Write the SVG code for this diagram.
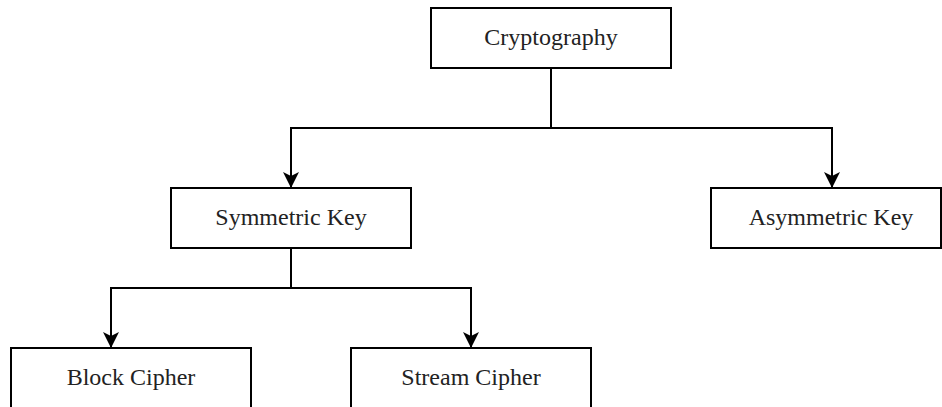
<svg xmlns="http://www.w3.org/2000/svg" width="942" height="407" viewBox="0 0 942 407">
  <style>
    .box { fill: #ffffff; stroke: #000000; stroke-width: 2; }
    .lbl { font-family: "Liberation Serif", "Times New Roman", serif; font-size: 24px; fill: #222222; text-anchor: middle; }
    .edge { fill: none; stroke: #000000; stroke-width: 2; }
    .head { fill: #000000; }
  </style>
  <rect width="942" height="407" fill="#ffffff"/>
  <g id="connectors">
    <path class="edge" d="M551,68 V128"/>
    <path class="edge" d="M551,128 H291 V187"/>
    <path class="edge" d="M551,128 H832 V187"/>
    <path class="edge" d="M291,248 V288"/>
    <path class="edge" d="M291,288 H111 V347"/>
    <path class="edge" d="M291,288 H471 V347"/>
    <path class="head" d="M283,172 L291,176 L299,172 L291,188 Z"/>
    <path class="head" d="M824,172 L832,176 L840,172 L832,188 Z"/>
    <path class="head" d="M103,332 L111,336 L119,332 L111,348 Z"/>
    <path class="head" d="M463,332 L471,336 L479,332 L471,348 Z"/>
  </g>
  <g id="cryptography">
    <rect class="box" x="431" y="8" width="240" height="60"/>
    <text class="lbl" x="551" y="45">Cryptography</text>
  </g>
  <g id="symmetric-key">
    <rect class="box" x="171" y="188" width="240" height="60"/>
    <text class="lbl" x="291" y="225">Symmetric Key</text>
  </g>
  <g id="asymmetric-key">
    <rect class="box" x="711" y="188" width="230" height="60"/>
    <text class="lbl" x="831" y="225">Asymmetric Key</text>
  </g>
  <g id="block-cipher">
    <rect class="box" x="11" y="348" width="240" height="60"/>
    <text class="lbl" x="131" y="385">Block Cipher</text>
  </g>
  <g id="stream-cipher">
    <rect class="box" x="351" y="348" width="240" height="60"/>
    <text class="lbl" x="471" y="385">Stream Cipher</text>
  </g>
</svg>
